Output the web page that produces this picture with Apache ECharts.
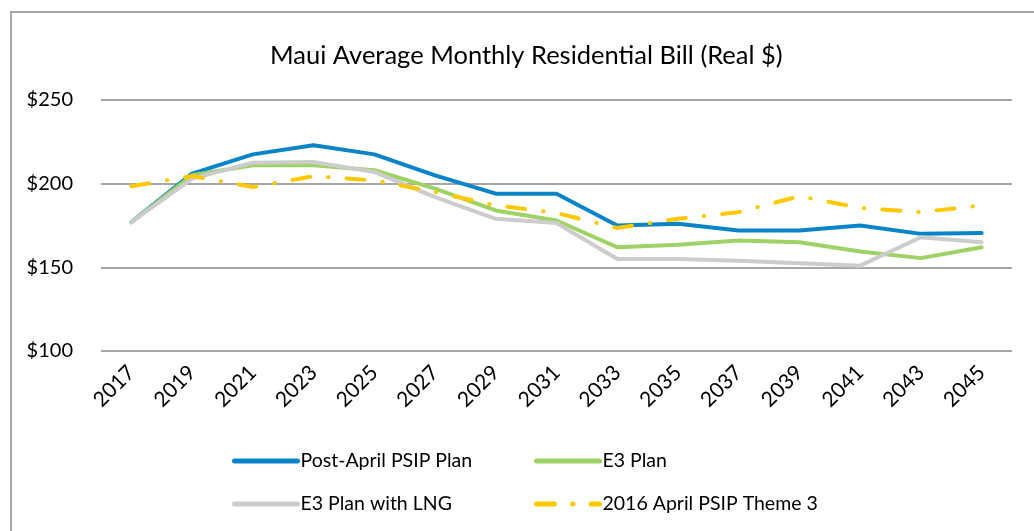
<!DOCTYPE html>
<html>
<head>
<meta charset="utf-8">
<script src="https://cdn.jsdelivr.net/npm/echarts@6/dist/echarts.min.js"></script>
<style>
  html, body { margin: 0; padding: 0; background: #fff; }
  #chart { width: 1034px; height: 531px; }
</style>
</head>
<body>
<div id="chart"></div>
<script>
const years = ['2017', '2019', '2021', '2023', '2025', '2027', '2029', '2031', '2033', '2035', '2037', '2039', '2041', '2043', '2045']
const postAprilPlan = [177, 206, 217.5, 223, 217.5, 205, 194, 194, 175, 176, 172, 172, 175, 170, 170.5]
const e3Plan = [177, 205, 211, 211, 208, 197, 184, 178, 162, 163.5, 166, 165, 159.5, 155.5, 162]
const e3PlanLng = [177, 203, 212.5, 213, 207, 192, 179, 176.5, 155, 155, 154, 152.5, 151, 168, 165]
const psip2016Theme3 = [198.5, 204.5, 198, 204.5, 202, 195, 187, 182.5, 173.5, 179, 183, 192.5, 185.5, 183, 187]
const yTicks = [100, 150, 200, 250]

const font = 'Lato, "Open Sans", sans-serif'
const gridColor = '#a6a6a6'

const chart = echarts.init(document.getElementById('chart'))

const lineSeries = (name, data, color, extra = {}) => ({
  type: 'line',
  name,
  data,
  symbol: 'none',
  lineStyle: { color, width: 4, cap: 'round', join: 'round', ...extra },
  itemStyle: { color },
})

const legendBase = {
  orient: 'vertical',
  top: 446,
  itemWidth: 63,
  itemHeight: 18,
  itemGap: 23,
  itemStyle: { opacity: 0 },
  lineStyle: { width: 5 },
  textStyle: { fontFamily: font, fontSize: 19.5, color: '#000', padding: [0, 0, 0, -2] },
}

chart.setOption({
  animation: false,
  backgroundColor: '#fff',
  graphic: [{
    type: 'rect',
    shape: { x: 11, y: 12, width: 1100, height: 600 },
    style: { fill: 'none', stroke: gridColor, lineWidth: 2 },
  }],
  title: {
    text: 'Maui Average Monthly Residential Bill (Real $)',
    left: 265,
    top: 38,
    textStyle: { fontFamily: font, fontSize: 25.5, fontWeight: 'normal', color: '#000' },
  },
  legend: [
    { ...legendBase, left: 227, data: ['Post-April PSIP Plan', 'E3 Plan with LNG'] },
    { ...legendBase, left: 529, data: ['E3 Plan', '2016 April PSIP Theme 3'] },
  ],
  grid: { left: 101, top: 100, width: 911, height: 251 },
  xAxis: {
    type: 'category',
    data: years,
    boundaryGap: true,
    axisLine: { show: false },
    axisTick: { show: false },
    axisLabel: { rotate: 45, margin: 18, fontFamily: font, fontSize: 21, color: '#000' },
  },
  yAxis: {
    type: 'value',
    min: yTicks[0],
    max: yTicks[yTicks.length - 1],
    interval: 50,
    axisLine: { show: false },
    axisTick: { show: false },
    axisLabel: { margin: 28, fontFamily: font, fontSize: 20, color: '#000', formatter: (v) => '$' + v },
    splitLine: { lineStyle: { color: gridColor, width: 2 } },
  },
  series: [
    lineSeries('Post-April PSIP Plan', postAprilPlan, '#0a84c8'),
    lineSeries('E3 Plan', e3Plan, '#9fd264'),
    lineSeries('E3 Plan with LNG', e3PlanLng, '#cccccc'),
    lineSeries('2016 April PSIP Theme 3', psip2016Theme3, '#ffc800', { type: [18, 18, 0.5, 18] }),
  ],
})
</script>
</body>
</html>
